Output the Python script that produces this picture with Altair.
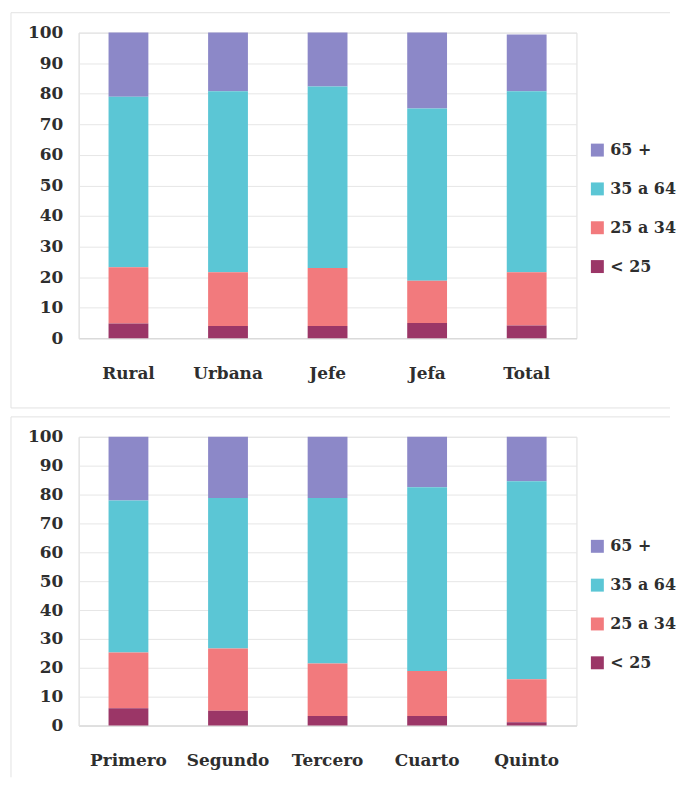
import altair as alt
import pandas as pd

# ---- data -------------------------------------------------------------
grupos = ["65 +", "35 a 64", "25 a 34", "< 25"]
colores = ["#8c88c8", "#5bc6d5", "#f27a7d", "#9b3667"]
orden_apilado = [3, 2, 1, 0]  # 0 = bottom of the stack

cat_arriba = ["Rural", "Urbana", "Jefe", "Jefa", "Total"]
arriba_65 = [21.0, 19.2, 17.6, 24.8, 18.6]
arriba_35_64 = [55.8, 59.2, 59.4, 56.4, 59.2]
arriba_25_34 = [18.4, 17.6, 19.0, 13.8, 17.4]
arriba_lt25 = [4.8, 4.0, 4.0, 5.0, 4.2]

cat_abajo = ["Primero", "Segundo", "Tercero", "Cuarto", "Quinto"]
abajo_65 = [22.1, 21.2, 21.2, 17.5, 15.4]
abajo_35_64 = [52.6, 52.1, 57.3, 63.6, 68.6]
abajo_25_34 = [19.3, 21.6, 18.2, 15.6, 14.9]
abajo_lt25 = [6.0, 5.1, 3.3, 3.3, 1.1]

ticks_y = list(range(0, 101, 10))

FONT = "DejaVu Serif"
TXT = "#2e2e2e"
WEIGHT = "bold"
FRAME = "#e2e2e2"


def tabla(cats, series):
    rows = []
    for g, o, vals in zip(grupos, orden_apilado, series):
        for c, v in zip(cats, vals):
            rows.append({"cat": c, "grupo": g, "valor": v, "orden": o})
    return pd.DataFrame(rows)


def panel(cats, series, h, legend_y, frame_bottom, bottom_edge):
    df = tabla(cats, series)
    bars = alt.Chart(df).mark_bar().encode(
        x=alt.X(
            "cat:N",
            sort=cats,
            title=None,
            scale=alt.Scale(paddingInner=0.6, paddingOuter=0.3),
            axis=alt.Axis(
                labelAngle=0,
                ticks=False,
                grid=False,
                domainColor="#d6d6d6",
                labelPadding=27,
                labelFont=FONT,
                labelFontSize=17,
                labelFontWeight=WEIGHT,
                labelColor=TXT,
            ),
        ),
        y=alt.Y(
            "valor:Q",
            stack="zero",
            title=None,
            scale=alt.Scale(domain=[0, 100], nice=False),
            axis=alt.Axis(
                values=ticks_y,
                ticks=False,
                domainColor="#e4e4e4",
                gridColor="#e6e6e6",
                labelPadding=16,
                labelFont=FONT,
                labelFontSize=17,
                labelFontWeight=WEIGHT,
                labelColor=TXT,
            ),
        ),
        color=alt.Color(
            "grupo:N",
            scale=alt.Scale(domain=grupos, range=colores),
            legend=alt.Legend(
                title=None,
                orient="none",
                legendX=513,
                legendY=legend_y,
                symbolType="square",
                symbolSize=169,
                symbolStrokeWidth=0,
                rowPadding=23,
                labelFont=FONT,
                labelFontSize=16,
                labelFontWeight=WEIGHT,
                labelColor=TXT,
                labelOffset=5,
            ),
        ),
        order=alt.Order("orden:Q", sort="ascending"),
    )
    one = pd.DataFrame({"k": [0]})
    layers = [
        alt.Chart(one).mark_rule(color=FRAME, strokeWidth=1).encode(
            x=alt.value(-68), x2=alt.value(594), y=alt.value(-20)
        ),
        alt.Chart(one).mark_rule(color=FRAME, strokeWidth=1).encode(
            x=alt.value(-68), y=alt.value(-20), y2=alt.value(frame_bottom)
        ),
    ]
    if bottom_edge:
        layers.append(
            alt.Chart(one).mark_rule(color=FRAME, strokeWidth=1).encode(
                x=alt.value(-68), x2=alt.value(594), y=alt.value(frame_bottom)
            )
        )
    return alt.layer(*layers, bars).properties(width=500, height=h)


top = panel(cat_arriba, [arriba_65, arriba_35_64, arriba_25_34, arriba_lt25], 307, 110, 377, True)
bottom = panel(cat_abajo, [abajo_65, abajo_35_64, abajo_25_34, abajo_lt25], 290, 102, 342, False)

chart = (
    alt.vconcat(top, bottom, spacing=7)
    .resolve_scale(color="independent")
    .resolve_legend(color="independent")
    .properties(padding={"left": 2, "top": 2, "right": 0, "bottom": 0})
    .configure_view(strokeWidth=0)
    .configure(background="white")
)

chart.save("out.html", embed_options={"renderer": "svg", "actions": False})
